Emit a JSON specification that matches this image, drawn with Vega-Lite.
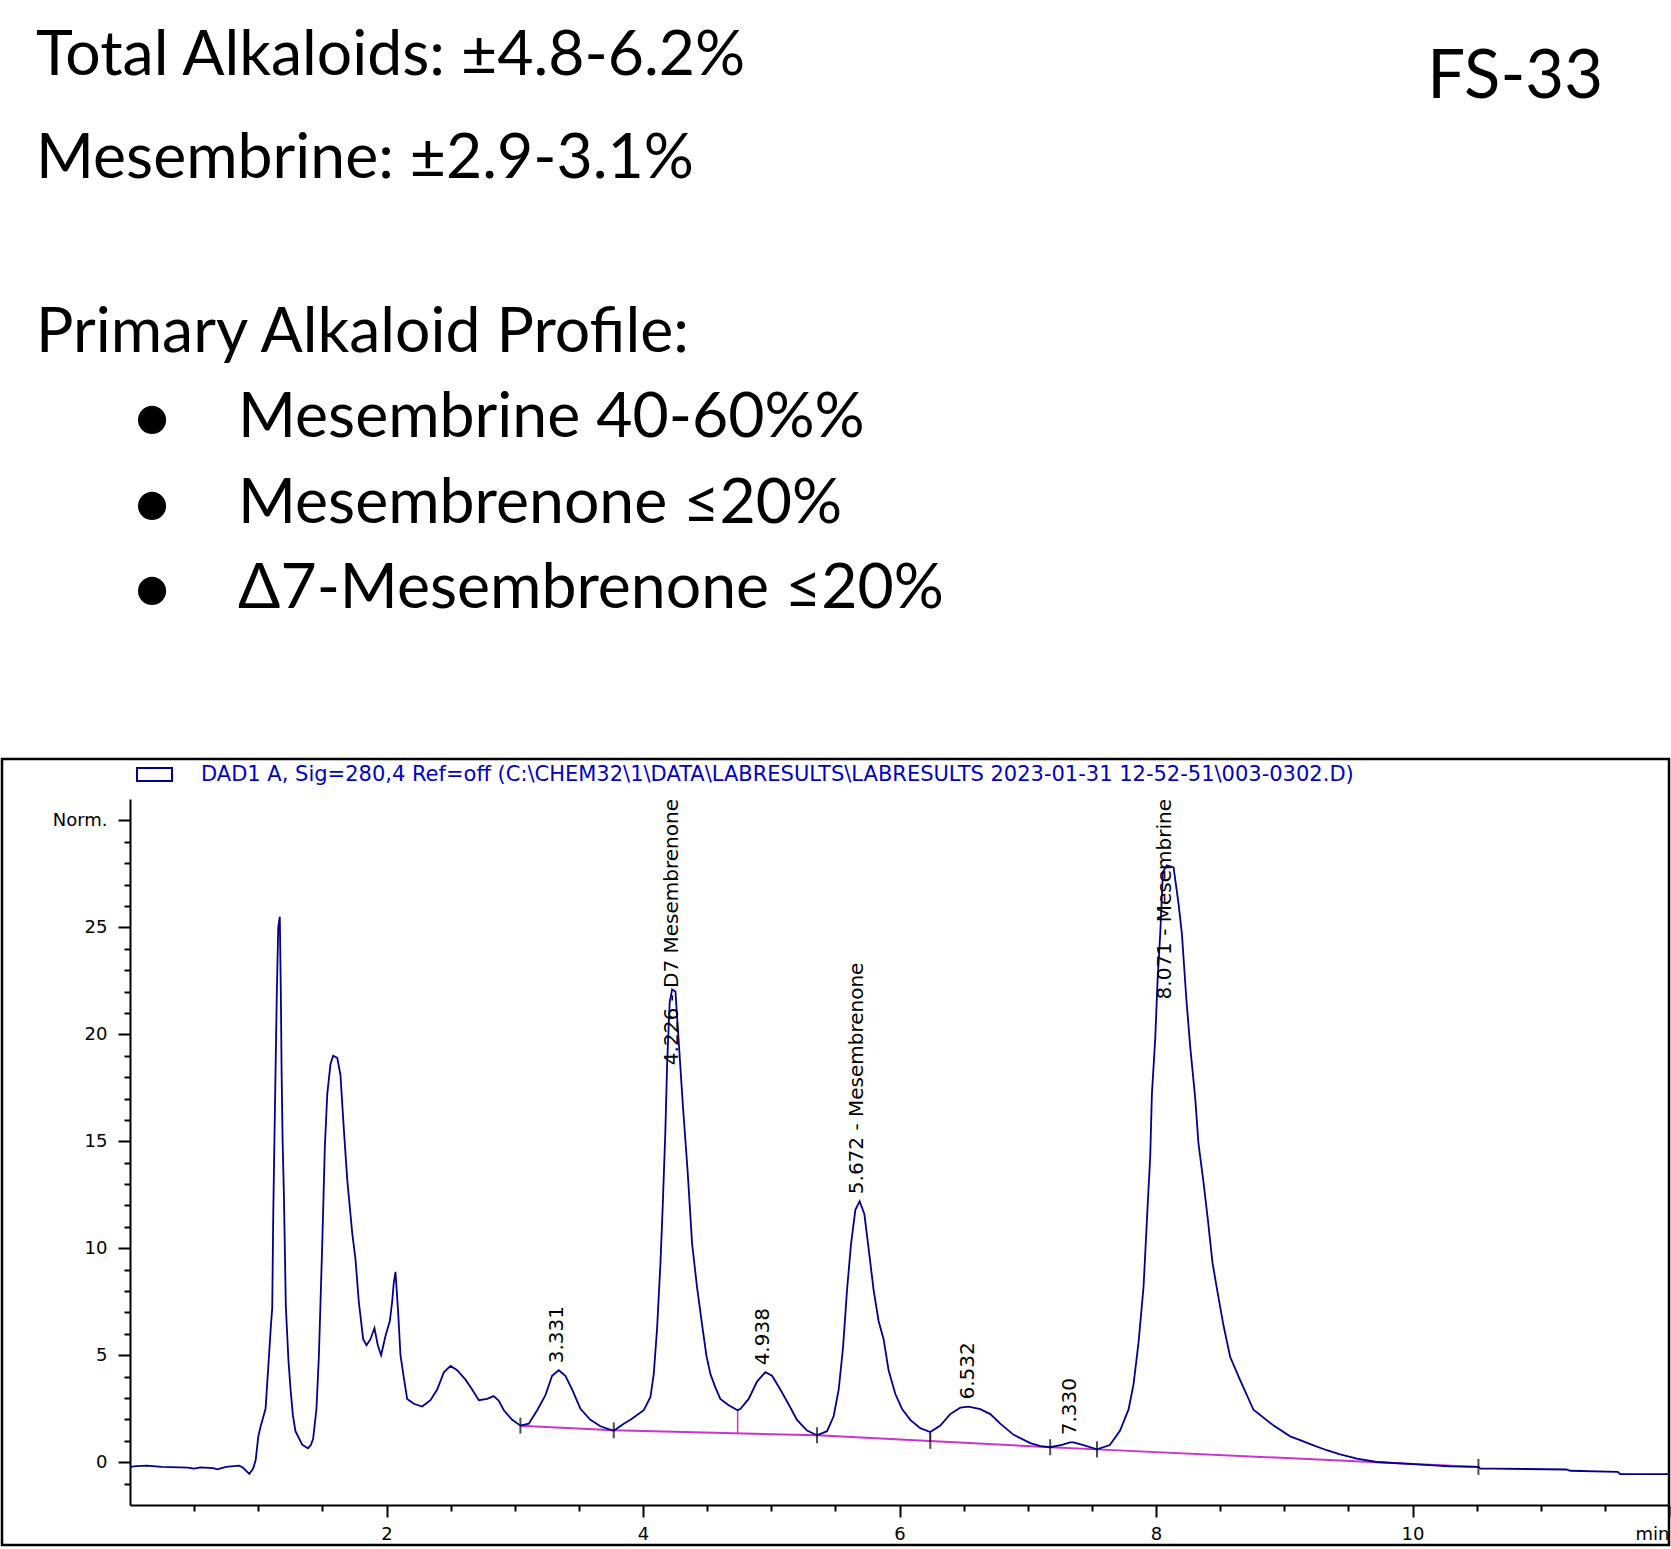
{
  "$schema": "https://vega.github.io/schema/vega-lite/v6.json",
  "width": 1539,
  "height": 706,
  "autosize": {"type": "none"},
  "padding": {"left": 130, "top": 799, "right": 2, "bottom": 44},
  "background": "white",
  "config": {"view": {"stroke": null}, "font": "DejaVu Sans"},
  "datasets": {
    "trace": [
      {"t": 0.0, "v": -0.22}, {"t": 0.05, "v": -0.18}, {"t": 0.13, "v": -0.16}, {"t": 0.25, "v": -0.22},
      {"t": 0.45, "v": -0.25}, {"t": 0.5, "v": -0.3}, {"t": 0.55, "v": -0.24}, {"t": 0.65, "v": -0.28},
      {"t": 0.68, "v": -0.33}, {"t": 0.75, "v": -0.22}, {"t": 0.85, "v": -0.16}, {"t": 0.88, "v": -0.25},
      {"t": 0.93, "v": -0.55}, {"t": 0.96, "v": -0.3}, {"t": 0.98, "v": 0.1}, {"t": 1.0, "v": 1.2},
      {"t": 1.02, "v": 1.7}, {"t": 1.057, "v": 2.5}, {"t": 1.083, "v": 4.9}, {"t": 1.1, "v": 6.5},
      {"t": 1.109, "v": 7.2}, {"t": 1.117, "v": 11.6}, {"t": 1.13, "v": 16.5}, {"t": 1.145, "v": 22.0},
      {"t": 1.156, "v": 25.0}, {"t": 1.168, "v": 25.5}, {"t": 1.176, "v": 22.0}, {"t": 1.182, "v": 18.3},
      {"t": 1.19, "v": 15.0}, {"t": 1.2, "v": 12.5}, {"t": 1.215, "v": 7.3}, {"t": 1.235, "v": 4.8},
      {"t": 1.252, "v": 3.4}, {"t": 1.27, "v": 2.2}, {"t": 1.29, "v": 1.45}, {"t": 1.343, "v": 0.82},
      {"t": 1.387, "v": 0.65}, {"t": 1.41, "v": 0.8}, {"t": 1.428, "v": 1.09}, {"t": 1.454, "v": 2.5},
      {"t": 1.473, "v": 5.0}, {"t": 1.499, "v": 10.2}, {"t": 1.519, "v": 14.7}, {"t": 1.538, "v": 17.2},
      {"t": 1.563, "v": 18.6}, {"t": 1.584, "v": 19.0}, {"t": 1.616, "v": 18.9}, {"t": 1.641, "v": 18.1},
      {"t": 1.667, "v": 15.6}, {"t": 1.694, "v": 13.2}, {"t": 1.733, "v": 10.7}, {"t": 1.758, "v": 9.5},
      {"t": 1.784, "v": 7.5}, {"t": 1.818, "v": 5.75}, {"t": 1.844, "v": 5.47}, {"t": 1.875, "v": 5.75},
      {"t": 1.906, "v": 6.27}, {"t": 1.932, "v": 5.47}, {"t": 1.958, "v": 5.0}, {"t": 1.992, "v": 5.9},
      {"t": 2.026, "v": 6.6}, {"t": 2.044, "v": 7.5}, {"t": 2.057, "v": 8.4}, {"t": 2.07, "v": 8.9},
      {"t": 2.091, "v": 7.0}, {"t": 2.109, "v": 5.0}, {"t": 2.135, "v": 3.95}, {"t": 2.161, "v": 2.96},
      {"t": 2.213, "v": 2.73}, {"t": 2.278, "v": 2.6}, {"t": 2.343, "v": 2.9}, {"t": 2.395, "v": 3.4},
      {"t": 2.447, "v": 4.2}, {"t": 2.499, "v": 4.5}, {"t": 2.551, "v": 4.3}, {"t": 2.616, "v": 3.86},
      {"t": 2.668, "v": 3.4}, {"t": 2.72, "v": 2.9}, {"t": 2.785, "v": 2.96}, {"t": 2.836, "v": 3.09},
      {"t": 2.876, "v": 2.87}, {"t": 2.915, "v": 2.43}, {"t": 2.98, "v": 1.98}, {"t": 3.044, "v": 1.71},
      {"t": 3.109, "v": 1.8}, {"t": 3.175, "v": 2.43}, {"t": 3.24, "v": 3.15}, {"t": 3.291, "v": 4.04},
      {"t": 3.343, "v": 4.3}, {"t": 3.395, "v": 4.04}, {"t": 3.447, "v": 3.4}, {"t": 3.512, "v": 2.5},
      {"t": 3.59, "v": 1.98}, {"t": 3.668, "v": 1.68}, {"t": 3.772, "v": 1.47}, {"t": 3.85, "v": 1.8},
      {"t": 3.902, "v": 1.98}, {"t": 4.006, "v": 2.43}, {"t": 4.058, "v": 3.05}, {"t": 4.084, "v": 4.13},
      {"t": 4.11, "v": 6.27}, {"t": 4.136, "v": 9.3}, {"t": 4.154, "v": 12.0}, {"t": 4.175, "v": 15.6},
      {"t": 4.188, "v": 18.6}, {"t": 4.208, "v": 21.5}, {"t": 4.227, "v": 22.1}, {"t": 4.253, "v": 22.0},
      {"t": 4.278, "v": 19.7}, {"t": 4.313, "v": 16.5}, {"t": 4.348, "v": 13.6}, {"t": 4.383, "v": 10.2},
      {"t": 4.421, "v": 8.2}, {"t": 4.46, "v": 6.45}, {"t": 4.494, "v": 5.0}, {"t": 4.525, "v": 4.13},
      {"t": 4.564, "v": 3.5}, {"t": 4.603, "v": 2.96}, {"t": 4.668, "v": 2.66}, {"t": 4.738, "v": 2.43},
      {"t": 4.76, "v": 2.5}, {"t": 4.824, "v": 2.96}, {"t": 4.889, "v": 3.77}, {"t": 4.954, "v": 4.21},
      {"t": 5.006, "v": 4.04}, {"t": 5.071, "v": 3.4}, {"t": 5.136, "v": 2.7}, {"t": 5.201, "v": 1.98},
      {"t": 5.279, "v": 1.48}, {"t": 5.357, "v": 1.26}, {"t": 5.435, "v": 1.45}, {"t": 5.487, "v": 2.16},
      {"t": 5.526, "v": 3.4}, {"t": 5.56, "v": 5.38}, {"t": 5.591, "v": 8.06}, {"t": 5.622, "v": 10.2},
      {"t": 5.656, "v": 11.8}, {"t": 5.689, "v": 12.2}, {"t": 5.726, "v": 11.6}, {"t": 5.759, "v": 10.0},
      {"t": 5.798, "v": 8.06}, {"t": 5.837, "v": 6.6}, {"t": 5.876, "v": 5.75}, {"t": 5.915, "v": 4.3},
      {"t": 5.967, "v": 3.2}, {"t": 6.019, "v": 2.5}, {"t": 6.084, "v": 1.98}, {"t": 6.162, "v": 1.59},
      {"t": 6.24, "v": 1.41}, {"t": 6.318, "v": 1.71}, {"t": 6.396, "v": 2.25}, {"t": 6.474, "v": 2.55},
      {"t": 6.539, "v": 2.6}, {"t": 6.63, "v": 2.48}, {"t": 6.708, "v": 2.25}, {"t": 6.786, "v": 1.8},
      {"t": 6.89, "v": 1.28}, {"t": 7.02, "v": 0.89}, {"t": 7.1, "v": 0.75}, {"t": 7.175, "v": 0.7},
      {"t": 7.266, "v": 0.81}, {"t": 7.33, "v": 0.93}, {"t": 7.357, "v": 0.93}, {"t": 7.435, "v": 0.8},
      {"t": 7.54, "v": 0.6}, {"t": 7.64, "v": 0.8}, {"t": 7.72, "v": 1.48}, {"t": 7.786, "v": 2.47},
      {"t": 7.825, "v": 3.65}, {"t": 7.864, "v": 5.6}, {"t": 7.903, "v": 8.2}, {"t": 7.929, "v": 11.3},
      {"t": 7.955, "v": 14.3}, {"t": 7.968, "v": 17.2}, {"t": 7.994, "v": 19.8}, {"t": 8.012, "v": 22.5},
      {"t": 8.033, "v": 24.7}, {"t": 8.054, "v": 27.6}, {"t": 8.085, "v": 27.9}, {"t": 8.137, "v": 27.8},
      {"t": 8.176, "v": 26.1}, {"t": 8.202, "v": 24.7}, {"t": 8.236, "v": 21.7}, {"t": 8.267, "v": 19.4},
      {"t": 8.306, "v": 17.0}, {"t": 8.331, "v": 14.9}, {"t": 8.37, "v": 13.1}, {"t": 8.405, "v": 11.3},
      {"t": 8.44, "v": 9.35}, {"t": 8.479, "v": 7.97}, {"t": 8.526, "v": 6.4}, {"t": 8.578, "v": 4.93},
      {"t": 8.656, "v": 3.84}, {"t": 8.76, "v": 2.45}, {"t": 8.92, "v": 1.7}, {"t": 9.046, "v": 1.21},
      {"t": 9.124, "v": 1.03}, {"t": 9.228, "v": 0.79}, {"t": 9.332, "v": 0.56}, {"t": 9.436, "v": 0.37},
      {"t": 9.566, "v": 0.17}, {"t": 9.722, "v": 0.01}, {"t": 10.007, "v": -0.09}, {"t": 10.293, "v": -0.19},
      {"t": 10.514, "v": -0.22}, {"t": 10.53, "v": -0.3}, {"t": 10.63, "v": -0.3}, {"t": 11.2, "v": -0.34},
      {"t": 11.23, "v": -0.4}, {"t": 11.6, "v": -0.45}, {"t": 11.62, "v": -0.56}, {"t": 12.0, "v": -0.56}
    ],
    "baseline": [
      {"t": 3.044, "v": 1.71}, {"t": 3.772, "v": 1.49}, {"t": 5.357, "v": 1.26},
      {"t": 7.175, "v": 0.7}, {"t": 7.54, "v": 0.6}, {"t": 10.514, "v": -0.22}
    ],
    "boundaries": [
      {"t": 3.044, "v": 1.71}, {"t": 3.772, "v": 1.49}, {"t": 5.357, "v": 1.26}, {"t": 6.24, "v": 1.0},
      {"t": 7.175, "v": 0.7}, {"t": 7.54, "v": 0.6}, {"t": 10.514, "v": -0.22}
    ],
    "drops": [
      {"t": 4.738, "v": 1.35, "v2": 2.43},
      {"t": 6.24, "v": 1.0, "v2": 1.41}
    ],
    "peaks": [
      {"rt": 3.331, "apex": 4.3, "label": "3.331"},
      {"rt": 4.226, "apex": 22.1, "label": "4.226 - D7 Mesembrenone"},
      {"rt": 4.938, "apex": 4.2, "label": "4.938"},
      {"rt": 5.672, "apex": 12.2, "label": "5.672 - Mesembrenone"},
      {"rt": 6.532, "apex": 2.6, "label": "6.532"},
      {"rt": 7.33, "apex": 0.93, "label": "7.330"},
      {"rt": 8.071, "apex": 27.9, "label": "8.071 - Mesembrine"}
    ],
    "header": [
      {"text": "Total Alkaloids: ±4.8-6.2%", "line": 1, "indent": 0},
      {"text": "Mesembrine: ±2.9-3.1%", "line": 2, "indent": 0},
      {"text": "Primary Alkaloid Profile:", "line": 4, "indent": 0},
      {"text": "Mesembrine 40-60%%", "line": 5, "indent": 1},
      {"text": "Mesembrenone ≤20%", "line": 6, "indent": 1},
      {"text": "Δ7-Mesembrenone ≤20%", "line": 7, "indent": 1},
      {"text": "FS-33", "line": 1, "indent": 2}
    ]
  },
  "layer": [
    {
      "resolve": {"axis": {"x": "independent", "y": "independent"}},
      "layer": [
        {
          "data": {"values": [{}]},
          "mark": {"type": "rect", "filled": false, "color": "#000000", "strokeWidth": 2.5, "clip": false},
          "encoding": {
            "x": {"datum": -0.998, "type": "quantitative", "axis": null},
            "x2": {"datum": 12},
            "y": {"datum": 32.87, "type": "quantitative", "axis": null},
            "y2": {"datum": -3.87}
          }
        },
        {
          "data": {"name": "baseline"},
          "mark": {"type": "line", "color": "#cc33cc", "strokeWidth": 2},
          "encoding": {
            "x": {
              "field": "t", "type": "quantitative",
              "axis": {
                "orient": "bottom", "title": null, "grid": false, "labels": false, "domain": false,
                "values": [0.5, 1, 1.5, 2.5, 3, 3.5, 4.5, 5, 5.5, 6.5, 7, 7.5, 8.5, 9, 9.5, 10.5, 11, 11.5],
                "tickSize": 6, "tickColor": "#000000", "tickWidth": 2
              }
            },
            "y": {
              "field": "v", "type": "quantitative",
              "axis": {
                "orient": "left", "title": null, "grid": false, "labels": false, "domain": false,
                "values": [-1, 1, 2, 3, 4, 6, 7, 8, 9, 11, 12, 13, 14, 16, 17, 18, 19, 21, 22, 23, 24, 26, 27, 28, 29],
                "tickSize": 6, "tickColor": "#000000", "tickWidth": 2
              }
            }
          }
        },
        {
          "data": {"name": "drops"},
          "mark": {"type": "rule", "color": "#cc33cc", "strokeWidth": 1.5},
          "encoding": {
            "x": {"field": "t", "type": "quantitative", "axis": null},
            "y": {"field": "v", "type": "quantitative", "axis": null},
            "y2": {"field": "v2"}
          }
        },
        {
          "data": {"name": "trace"},
          "mark": {"type": "line", "strokeWidth": 1.8},
          "encoding": {
            "x": {
              "field": "t", "type": "quantitative",
              "scale": {"domain": [0, 12], "nice": false, "zero": false},
              "axis": {
                "orient": "bottom", "title": null, "grid": false,
                "values": [2, 4, 6, 8, 10, 12],
                "labelExpr": "datum.value === 12 ? 'min' : datum.label",
                "labelAlign": {"condition": {"test": "datum.value === 12", "value": "right"}, "value": "center"},
                "tickSize": 12,
                "labelFont": "DejaVu Sans", "labelFontSize": 18, "labelColor": "#000000", "labelPadding": 8,
                "labelOverlap": false, "labelFlush": false, "labelBound": false,
                "domainColor": "#000000", "domainWidth": 2, "tickColor": "#000000", "tickWidth": 2
              }
            },
            "y": {
              "field": "v", "type": "quantitative",
              "scale": {"domain": [-2, 31], "nice": false, "zero": false},
              "axis": {
                "orient": "left", "title": null, "grid": false,
                "values": [0, 5, 10, 15, 20, 25, 30],
                "labelExpr": "datum.value === 30 ? 'Norm.' : datum.label",
                "tickSize": 12,
                "labelFont": "DejaVu Sans", "labelFontSize": 18, "labelColor": "#000000", "labelPadding": 11,
                "labelOverlap": false, "labelBound": false,
                "domainColor": "#000000", "domainWidth": 2, "tickColor": "#000000", "tickWidth": 2
              }
            },
            "color": {
              "datum": "DAD1 A, Sig=280,4 Ref=off (C:\\CHEM32\\1\\DATA\\LABRESULTS\\LABRESULTS 2023-01-31 12-52-51\\003-0302.D)",
              "type": "nominal",
              "scale": {"range": ["#000090"]},
              "legend": {
                "orient": "none", "legendX": 6, "legendY": -43, "title": null, "padding": 0,
                "symbolType": "M-1,-0.371H1V0.371H-1Z", "symbolSize": 1225, "symbolStrokeWidth": 2,
                "symbolFillColor": "transparent",
                "labelFont": "DejaVu Sans", "labelFontSize": 21, "labelColor": "#0000c8",
                "labelLimit": 3000, "labelOffset": 28
              }
            }
          }
        },
        {
          "data": {"name": "boundaries"},
          "mark": {"type": "tick", "orient": "vertical", "color": "#000000", "size": 16, "thickness": 2},
          "encoding": {
            "x": {"field": "t", "type": "quantitative", "axis": null},
            "y": {"field": "v", "type": "quantitative", "axis": null}
          }
        },
        {
          "data": {"name": "peaks"},
          "transform": [{"filter": "datum.apex < 20"}],
          "mark": {"type": "text", "angle": 270, "align": "left", "baseline": "middle", "dx": 7, "font": "DejaVu Sans", "fontSize": 20, "color": "#000000"},
          "encoding": {
            "x": {"field": "rt", "type": "quantitative", "axis": null},
            "y": {"field": "apex", "type": "quantitative", "axis": null},
            "text": {"field": "label"}
          }
        },
        {
          "data": {"name": "peaks"},
          "transform": [{"filter": "datum.apex >= 20"}],
          "mark": {"type": "text", "angle": 270, "align": "right", "baseline": "middle", "font": "DejaVu Sans", "fontSize": 20, "color": "#000000"},
          "encoding": {
            "x": {"field": "rt", "type": "quantitative", "axis": null},
            "y": {"datum": 31, "type": "quantitative", "axis": null},
            "text": {"field": "label"}
          }
        }
      ]
    },
    {
      "data": {"name": "header"},
      "encoding": {
        "x": {"field": "indent", "type": "quantitative", "scale": {"domain": [0, 1, 2], "range": [-94, 108, 1473]}, "axis": null},
        "y": {"field": "line", "type": "quantitative", "scale": {"domain": [1, 2, 4, 7], "range": [-724.3, -621.4, -447, -191.1]}, "axis": null}
      },
      "layer": [
        {
          "transform": [{"filter": "datum.indent < 2"}],
          "mark": {"type": "text", "align": "left", "baseline": "alphabetic", "font": "Lato", "fontSize": 62.5, "color": "#000000"},
          "encoding": {"text": {"field": "text"}}
        },
        {
          "transform": [{"filter": "datum.indent === 1"}],
          "mark": {"type": "text", "align": "center", "baseline": "alphabetic", "font": "Lato", "fontSize": 76, "dx": -86, "dy": 5, "color": "#000000"},
          "encoding": {"text": {"value": "•"}}
        },
        {
          "transform": [{"filter": "datum.indent === 2"}],
          "mark": {"type": "text", "align": "right", "baseline": "alphabetic", "font": "Lato", "fontSize": 67, "dy": 23, "color": "#000000"},
          "encoding": {"text": {"field": "text"}}
        }
      ]
    }
  ],
  "resolve": {"scale": {"x": "independent", "y": "independent"}}
}
